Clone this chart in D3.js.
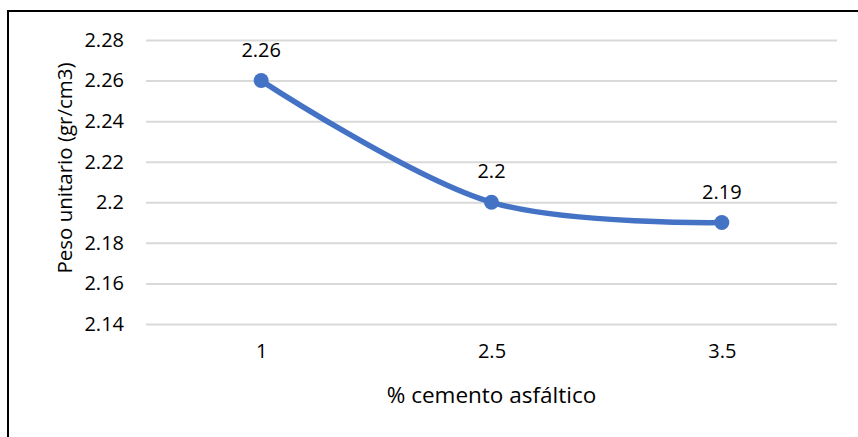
<!DOCTYPE html>
<html>
<head>
<meta charset="utf-8">
<script src="https://cdn.jsdelivr.net/npm/d3@7"></script>
<style>
  body { margin: 0; background: #fff; }
  text { font-family: "Open Sans", "Liberation Sans", sans-serif; fill: #000; }
</style>
</head>
<body>
<div id="chart"></div>
<script>
// chart data
var categories = ['1', '2.5', '3.5'];
var values = [2.26, 2.2, 2.19];
var labels = ['2.26', '2.2', '2.19'];
var yTicks = [2.14, 2.16, 2.18, 2.2, 2.22, 2.24, 2.26, 2.28];

var svgWidth = 858;
var svgHeight = 437;
var fontSize = '20px';

var margin = { top: 40, bottom: 113, left: 146, right: 21 };
var chartWidth = svgWidth - margin.left - margin.right;
var chartHeight = svgHeight - margin.top - margin.bottom;

var svg = d3.select('#chart')
  .append('svg')
  .attr('width', svgWidth)
  .attr('height', svgHeight);

// frame
svg.append('rect')
  .attr('x', 8)
  .attr('y', 11)
  .attr('width', 900)
  .attr('height', 500)
  .attr('fill', 'none')
  .attr('stroke', '#000')
  .attr('stroke-width', 2);

var chartGroup = svg.append('g')
  .attr('transform', `translate(${margin.left}, ${margin.top})`);

var xScale = d3.scalePoint()
  .domain(categories)
  .range([0, chartWidth])
  .padding(0.5);

var yScale = d3.scaleLinear()
  .domain([2.14, 2.28])
  .range([chartHeight, 0]);

// gridlines
var leftAxis = d3.axisLeft(yScale)
  .tickValues(yTicks)
  .tickSize(-chartWidth)
  .tickPadding(22)
  .tickFormat(d3.format('~g'));

var yAxis = chartGroup.append('g').call(leftAxis);
yAxis.select('.domain').remove();
yAxis.selectAll('line').attr('stroke', '#d9d9d9').attr('stroke-width', 2);
yAxis.selectAll('text').style('font-size', fontSize).style('font-family', null);

var bottomAxis = d3.axisBottom(xScale).tickSize(0).tickPadding(20);
var xAxis = chartGroup.append('g')
  .attr('transform', `translate(0, ${chartHeight})`)
  .call(bottomAxis);
xAxis.select('.domain').remove();
xAxis.selectAll('text').style('font-size', fontSize).style('font-family', null);

// line
var points = categories.map(function(c, i) { return { cat: c, value: values[i], label: labels[i] }; });

var line = d3.line()
  .x(d => xScale(d.cat))
  .y(d => yScale(d.value))
  .curve(d3.curveCatmullRom.alpha(0.5));

chartGroup.append('path')
  .datum(points)
  .attr('d', line)
  .attr('fill', 'none')
  .attr('stroke', '#4472c4')
  .attr('stroke-width', 5.5)
  .attr('stroke-linecap', 'round');

chartGroup.selectAll('circle')
  .data(points)
  .enter()
  .append('circle')
  .attr('cx', d => xScale(d.cat))
  .attr('cy', d => yScale(d.value))
  .attr('r', 7.5)
  .attr('fill', '#4472c4');

// data labels
chartGroup.selectAll('.dlabel')
  .data(points)
  .enter()
  .append('text')
  .attr('class', 'dlabel')
  .attr('x', d => xScale(d.cat))
  .attr('y', d => yScale(d.value) - 24)
  .attr('text-anchor', 'middle')
  .style('font-size', fontSize)
  .text(d => d.label);

// axis titles
svg.append('text')
  .attr('x', margin.left + chartWidth / 2)
  .attr('y', 403)
  .attr('text-anchor', 'middle')
  .style('font-size', '22.5px')
  .text('% cemento asfáltico');

svg.append('text')
  .attr('transform', 'translate(72, 168) rotate(-90)')
  .attr('text-anchor', 'middle')
  .style('font-size', '20.5px')
  .text('Peso unitario (gr/cm3)');
</script>
</body>
</html>
